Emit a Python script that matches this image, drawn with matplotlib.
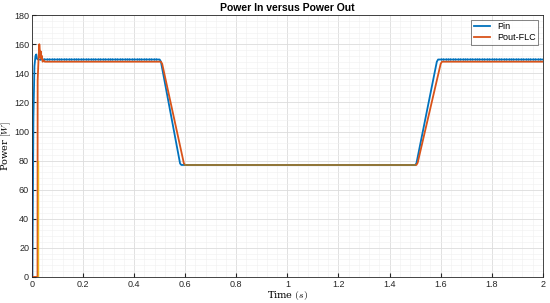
import matplotlib.pyplot as plt
from matplotlib.ticker import MultipleLocator, FormatStrFormatter

# breakpoints
t_in = [0, 0.002, 0.006, 0.010, 0.014, 0.017, 0.020, 0.024, 0.030,
        0.50, 0.505, 0.58, 0.585, 1.50, 1.505, 1.585, 1.59, 2.0]
p_in = [0, 0, 110, 145, 152, 153, 150, 149.5, 149.5,
        149.5, 148, 78, 77, 77, 78, 148, 149.5, 149.5]

t_out = [0, 0.022, 0.0225, 0.026, 0.029, 0.031, 0.033, 0.035, 0.037, 0.039, 0.042, 0.046, 0.05,
         0.505, 0.51, 0.595, 0.60, 1.505, 1.51, 1.60, 1.605, 2.0]
p_out = [0, 0, 135, 150, 160, 156, 151, 155, 150, 152, 148, 149, 148,
         148, 146.5, 78, 77, 77, 78.5, 146.5, 148, 148]

# hidden traces that only show near the bottom
t_pv = [0, 0.0005, 0.001]
p_pv = [0, 0, 85]
t_y = [0.022, 0.0225, 0.0225]
p_y = [0, 0, 80]

# ripple ticks on the top plateaus of Pin
t_rip1 = [0.03 + 0.0095 * i for i in range(49)]
t_rip2 = [1.6 + 0.0095 * i for i in range(42)]

plt.rcParams['font.family'] = ['Liberation Sans', 'DejaVu Sans']
plt.rcParams['mathtext.fontset'] = 'cm'

fig = plt.figure(figsize=(5.5, 3.03), dpi=100)
ax = fig.add_axes([0.058, 0.086, 0.929, 0.864])

ax.plot(t_in, p_in, color='#0072BD', lw=1.3, label='Pin')
ax.plot(t_rip1, [149.9] * len(t_rip1), ls='none', marker='|', ms=1.4, mew=0.7, color='#0072BD')
ax.plot(t_rip2, [149.9] * len(t_rip2), ls='none', marker='|', ms=1.4, mew=0.7, color='#0072BD')
ax.plot(t_out, p_out, color='#D95319', lw=1.3, label='Pout-FLC')
ax.plot(t_pv, p_pv, color='#7E2F8E', lw=1.2)
ax.plot(t_y, p_y, color='#EDB120', lw=1.0)
ax.plot([0.6, 1.5], [77, 77], color='#8C7A3C', lw=1.3)

ax.set_xlim(0, 2)
ax.set_ylim(0, 180)
ax.xaxis.set_major_locator(MultipleLocator(0.2))
ax.yaxis.set_major_locator(MultipleLocator(20))
ax.xaxis.set_minor_locator(MultipleLocator(0.04))
ax.yaxis.set_minor_locator(MultipleLocator(4))
ax.xaxis.set_major_formatter(FormatStrFormatter('%g'))
ax.grid(True, which='major', color='#dcdcdc', lw=0.6)
ax.grid(True, which='minor', color='#efefef', lw=0.4)
ax.tick_params(which='both', direction='in', labelsize=6.5, colors='#262626', length=3, pad=2)
ax.tick_params(which='minor', length=0)
for s in ax.spines.values():
    s.set_color('#262626')
    s.set_linewidth(0.6)

ax.set_title('Power In versus Power Out', fontsize=7.5, fontweight='bold', pad=3)
ax.set_xlabel('Time $(s)$', fontsize=7, family='serif', labelpad=0)
ax.set_ylabel('Power $[W]$', fontsize=7, family='serif', labelpad=1)

leg = ax.legend(loc='upper right', fontsize=6.5, frameon=True, fancybox=False,
                edgecolor='#262626', handlelength=1.8, borderpad=0.3, labelspacing=0.2)
leg.get_frame().set_linewidth(0.5)

fig.savefig('out.png', dpi=100)
